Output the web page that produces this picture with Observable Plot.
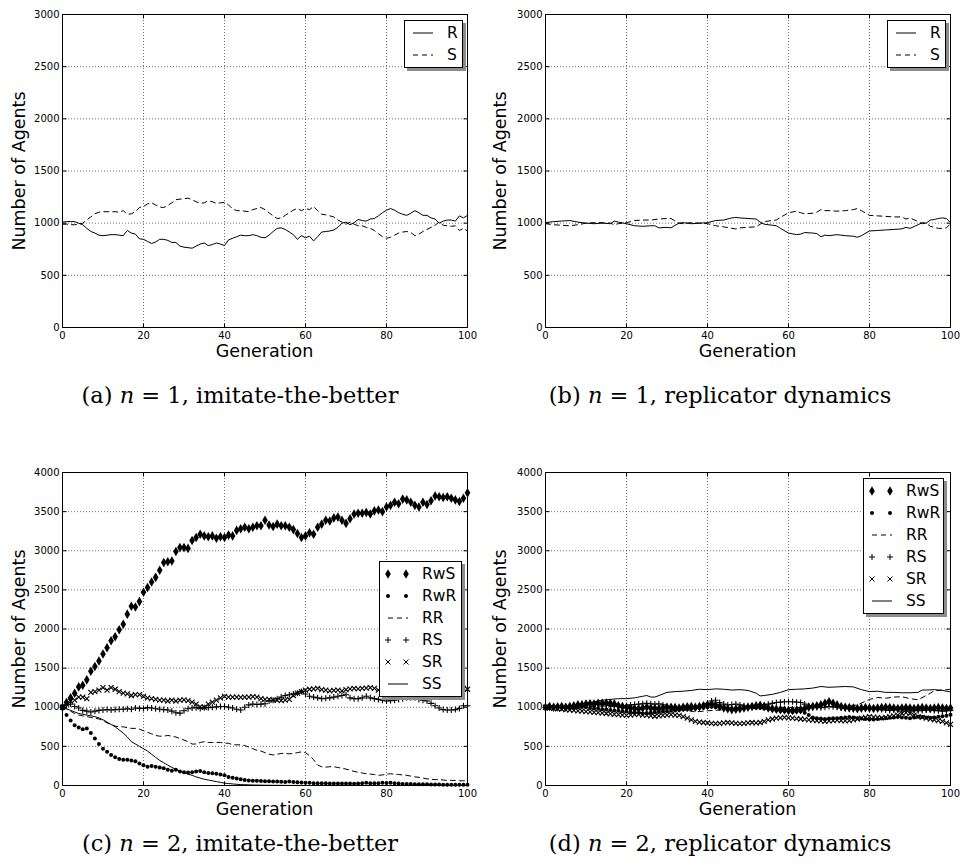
<!DOCTYPE html>
<html><head><meta charset="utf-8">
<script src="https://cdn.jsdelivr.net/npm/d3@7"></script>
<script src="https://cdn.jsdelivr.net/npm/@observablehq/plot@0.6"></script>
<style>
body{margin:0;background:#fff;}
#root{position:relative;width:960px;height:867px;overflow:hidden;background:#fff;font-family:"DejaVu Sans",sans-serif;color:#000;}
.panel{position:absolute;width:480px;height:430px;}
.ylab{position:absolute;font-size:17.5px;white-space:nowrap;transform:translate(-50%,-50%) rotate(-90deg);}
.xlab{position:absolute;font-size:17.5px;white-space:nowrap;transform:translate(-50%,-50%);}
.cap{position:absolute;left:0;width:480px;text-align:center;font-family:"DejaVu Serif",serif;font-size:22.5px;white-space:nowrap;transform:translateY(-50%);}
.legend{position:absolute;box-sizing:border-box;background:#fff;border:1px solid #000;box-shadow:3px 3px 0 #8c8c8c;}
.legend .row{position:absolute;left:0;height:22px;width:100%;}
.legend .row span{position:absolute;left:42px;top:0;line-height:22px;font-size:15.5px;}
.legend .row svg{position:absolute;left:0;top:0;overflow:visible;}
</style>
</head><body>
<div id="root"></div>
<script>
// ---------- data ----------
const generations = d3.range(0, 101);
const xTicks = [0, 20, 40, 60, 80, 100];
const yTicksTop = [0, 500, 1000, 1500, 2000, 2500, 3000];
const yTicksBottom = [0, 500, 1000, 1500, 2000, 2500, 3000, 3500, 4000];

// (a) n = 1, imitate-the-better
const aR = [
 1010,1015,1015,1015,1000,985,950,920,905,885,
 880,885,890,890,885,880,930,905,895,850,
 845,825,805,820,845,845,835,815,815,780,
 770,765,760,780,800,810,785,795,810,800,
 785,840,855,870,885,880,880,890,880,865,
 860,885,920,950,955,940,915,890,845,880,
 860,875,830,870,915,920,925,935,960,1000,
 1010,985,1005,1035,1025,1020,1040,1045,1070,1100,
 1125,1140,1125,1100,1085,1075,1095,1120,1100,1075,
 1075,1050,1040,1000,1020,1030,1030,1020,1070,1050,
 1075];
const aS = [
 990,990,985,985,990,1000,1030,1060,1090,1105,
 1110,1110,1110,1110,1105,1120,1085,1090,1110,1150,
 1160,1185,1195,1175,1155,1150,1170,1195,1225,1230,
 1235,1240,1225,1205,1190,1195,1215,1205,1190,1195,
 1200,1175,1135,1120,1120,1115,1110,1130,1140,1150,
 1130,1100,1070,1045,1050,1075,1100,1125,1140,1120,
 1140,1130,1160,1120,1085,1080,1070,1060,1030,1010,
 990,1010,990,975,975,960,950,930,900,870,
 855,865,885,905,915,920,910,880,895,920,
 940,960,980,1010,980,975,970,975,930,950,
 925];

// (b) n = 1, replicator dynamics
const bGen = [0,2,4,6,8,10,12,14,16,17,18,20,22,24,26,27,28,30,31,32,33,34,36,38,40,42,44,46,47,48,50,52,53,54,56,57,58,60,62,63,64,66,67,68,69,70,72,74,76,77,78,80,82,84,86,88,89,90,92,93,94,95,96,97,98,99,100];
const bR = [1005,1015,1020,1025,1010,1000,995,1000,995,1020,1010,995,975,970,975,975,955,960,955,980,1000,1005,995,1000,1005,1025,1030,1050,1055,1050,1045,1040,1010,990,980,975,950,905,890,895,910,905,900,870,885,880,890,880,875,865,880,925,930,935,940,945,960,950,985,1005,1000,1030,1035,1045,1050,1045,1005];
const bS = [995,985,980,975,985,1000,1005,1005,1000,985,995,1005,1025,1030,1030,1035,1040,1045,1045,1020,1000,995,1005,1000,995,975,965,950,945,955,960,965,990,1015,1025,1030,1055,1100,1115,1100,1090,1095,1105,1130,1120,1120,1115,1120,1130,1140,1120,1075,1070,1065,1060,1060,1040,1050,1015,995,1000,970,960,950,950,955,995];

// (c) n = 2, imitate-the-better
const cRwS = [
 1000,1060,1120,1180,1260,1280,1350,1460,1520,1590,
 1680,1760,1850,1900,1990,2060,2190,2290,2280,2350,
 2470,2530,2600,2660,2750,2850,2860,2870,2990,3040,
 3040,3030,3130,3170,3210,3190,3180,3190,3160,3180,
 3170,3200,3190,3260,3280,3300,3280,3300,3320,3320,
 3390,3330,3310,3340,3320,3320,3300,3270,3220,3170,
 3190,3230,3210,3300,3340,3390,3380,3420,3430,3390,
 3350,3410,3470,3480,3480,3490,3470,3510,3520,3500,
 3560,3580,3620,3600,3660,3650,3620,3580,3560,3620,
 3590,3640,3700,3690,3680,3690,3670,3650,3630,3670,
 3740];
const cRwR = [
 1000,900,830,770,740,720,730,670,600,530,
 470,430,390,360,340,330,330,320,310,280,
 260,240,250,240,230,220,200,190,200,180,
 170,165,170,180,185,170,160,155,150,140,
 130,110,100,90,80,70,65,60,60,58,
 55,55,52,50,48,45,50,45,40,38,
 35,35,30,30,28,28,25,25,25,25,
 25,25,22,25,30,35,30,28,30,35,
 32,35,30,25,20,18,18,15,15,15,
 15,12,12,12,10,10,10,10,10,10,
 10];
const cRR = [
 1000,980,950,920,900,890,880,870,860,850,
 830,800,780,760,750,750,740,730,730,720,
 700,680,660,640,630,630,640,630,620,600,
 580,560,530,530,550,560,550,550,550,550,
 540,540,520,520,520,510,490,470,450,440,
 420,400,390,400,410,410,405,410,420,430,
 420,380,330,260,240,235,240,240,230,220,
 210,195,180,170,160,150,145,140,130,135,
 145,150,145,140,135,130,120,110,105,95,
 85,80,75,75,70,65,65,65,60,60,
 60];
const cRS = [
 1000,1030,1040,1010,990,960,950,940,950,960,
 965,970,965,970,975,975,980,975,990,985,
 985,995,990,980,975,970,965,950,930,925,
 955,980,990,995,985,995,995,1000,1005,1010,
 1010,1000,990,975,965,1000,1030,1040,1035,1040,
 1045,1080,1090,1110,1130,1150,1160,1170,1180,1200,
 1170,1140,1130,1120,1110,1115,1120,1130,1140,1150,
 1160,1120,1110,1110,1120,1140,1120,1110,1100,1090,
 1080,1085,1090,1100,1110,1120,1125,1120,1100,1090,
 1080,1050,1020,990,970,965,965,970,985,1020,
 1020];
const cSR = [
 1000,1040,1080,1090,1130,1130,1110,1190,1200,1220,
 1250,1220,1250,1230,1200,1180,1170,1150,1160,1160,
 1140,1120,1110,1100,1090,1090,1080,1090,1080,1090,
 1095,1085,1065,1040,1005,1000,1040,1065,1090,1120,
 1140,1130,1130,1130,1125,1130,1130,1135,1130,1110,
 1100,1100,1090,1090,1085,1090,1100,1150,1180,1200,
 1220,1230,1235,1240,1225,1220,1210,1215,1220,1210,
 1225,1235,1240,1235,1240,1245,1250,1240,1220,1200,
 1180,1190,1200,1210,1220,1230,1230,1220,1230,1230,
 1240,1230,1220,1230,1220,1230,1230,1235,1230,1240,
 1230];
const cSS = [
 1000,980,960,940,920,910,900,890,880,865,
 840,810,780,750,710,670,620,560,530,500,
 470,440,400,360,320,290,260,230,210,180,
 165,145,130,110,95,80,70,60,50,40,
 30,25,20,15,12,10,8,6,5,4,
 3,3,2,2,2,1,1,1,1,1,
 0,0,0,0,0,0,0,0,0,0,
 0,0,0,0,0,0,0,0,0,0,
 0,0,0,0,0,0,0,0,0,0,
 0,0,0,0,0,0,0,0,0,0,
 0];

// (d) n = 2, replicator dynamics
const dRwS = [
 1000,1010,1000,1005,1010,1000,1010,1020,1030,1030,
 1040,1045,1040,1050,1050,1055,1050,1040,1020,1010,
 1000,990,985,980,990,1000,990,985,980,990,
 1000,1000,995,990,1000,1005,1010,1000,1010,1020,
 1030,1040,1030,1010,990,980,970,975,980,990,
 1000,1010,1020,1025,1010,990,980,975,970,965,
 960,960,965,970,985,1000,1010,1020,1030,1050,
 1070,1050,1030,1010,1000,995,990,985,990,995,
 990,985,990,995,1000,995,990,985,990,995,
 990,985,990,995,990,985,990,995,990,985,
 990];
const dRwR = [
 1000,995,1000,1005,1000,995,990,995,1000,1005,
 1000,990,985,980,975,970,965,960,955,950,
 945,940,930,925,920,925,930,935,940,945,
 950,955,960,965,970,975,980,985,990,995,
 1000,1005,1000,995,990,985,980,985,990,995,
 1000,1000,995,990,985,980,970,960,955,950,
 945,940,945,950,930,900,870,860,855,850,
 855,860,860,865,870,875,870,860,855,850,
 845,845,850,855,860,865,870,875,870,865,
 860,870,880,875,870,865,870,880,885,890,
 905];
const dRS = [
 1000,1005,1010,1000,995,1000,1010,1020,1030,1040,
 1045,1050,1045,1040,1035,1030,1025,1020,1015,1010,
 1020,1030,1035,1040,1045,1050,1045,1040,1045,1030,
 1010,1000,995,990,985,980,985,990,1000,1020,
 1050,1080,1090,1060,1040,1030,1035,1040,1030,1020,
 1010,1005,1010,1020,1030,1040,1050,1060,1065,1070,
 1070,1070,1065,1060,1040,1020,1010,1000,995,1000,
 1010,1005,1000,990,985,980,975,970,975,980,
 985,980,975,970,965,960,965,970,975,970,
 965,960,955,960,965,970,960,955,950,955,
 960];
const dSR = [
 1000,990,985,980,975,970,965,960,955,950,
 945,940,935,930,925,920,915,910,905,900,
 895,900,905,910,900,895,890,885,890,895,
 900,905,900,895,880,860,840,820,810,805,
 800,795,790,795,800,805,800,795,790,795,
 800,805,800,805,820,840,850,860,865,870,
 865,860,855,850,845,840,835,830,825,820,
 825,830,835,830,825,830,840,850,860,870,
 880,875,870,865,870,880,890,900,920,930,
 920,900,880,870,860,850,840,830,820,800,
 780];
const dSSGen = [0,2,4,6,8,10,12,14,16,18,20,22,24,25,26,27,28,30,32,34,36,38,40,42,44,46,48,50,52,53,54,56,58,60,62,64,66,68,70,72,74,76,78,80,82,84,86,88,90,92,93,94,96,98,100];
const dSS = [1000,1005,1010,1020,1030,1050,1070,1090,1100,1110,1110,1120,1140,1150,1130,1130,1150,1190,1200,1205,1215,1230,1225,1235,1230,1220,1225,1215,1180,1145,1150,1165,1190,1225,1230,1235,1245,1265,1255,1260,1265,1260,1225,1200,1205,1190,1190,1185,1185,1190,1220,1220,1225,1215,1195];
const dRRGen = [0,5,10,15,20,25,30,35,37,40,45,50,55,60,65,70,75,77,80,82,84,86,88,90,92,94,96,98,100];
const dRR = [1000,1005,1010,1015,1000,990,980,960,940,955,970,985,990,995,1000,1010,1015,1030,1100,1125,1115,1130,1135,1110,1095,1150,1210,1220,1230];

const captions = [
  {tag: "(a)", n: 1, method: "imitate-the-better"},
  {tag: "(b)", n: 1, method: "replicator dynamics"},
  {tag: "(c)", n: 2, method: "imitate-the-better"},
  {tag: "(d)", n: 2, method: "replicator dynamics"}
];
const yLabel = "Number of Agents";
const xLabel = "Generation";

// ---------- symbols ----------
const thinDiamond = {draw(ctx, size){const r=Math.sqrt(size/Math.PI);ctx.moveTo(0,-1.45*r);ctx.lineTo(0.85*r,0);ctx.lineTo(0,1.45*r);ctx.lineTo(-0.85*r,0);ctx.closePath();}};
const plusSym = {draw(ctx, size){const r=Math.sqrt(size/Math.PI);ctx.moveTo(-r,0);ctx.lineTo(r,0);ctx.moveTo(0,-r);ctx.lineTo(0,r);}};
const crossSym = {draw(ctx, size){const r=Math.sqrt(size/Math.PI);ctx.moveTo(-r,-r);ctx.lineTo(r,r);ctx.moveTo(-r,r);ctx.lineTo(r,-r);}};
const tickUp = {draw(ctx){ctx.moveTo(0,0);ctx.lineTo(0,-4);}};
const tickDown = {draw(ctx){ctx.moveTo(0,0);ctx.lineTo(0,4);}};
const tickRight = {draw(ctx){ctx.moveTo(0,0);ctx.lineTo(4,0);}};
const tickLeft = {draw(ctx){ctx.moveTo(0,0);ctx.lineTo(-4,0);}};

const zip = (xs, ys) => xs.map((x, i) => ({x, y: ys[i]}));

const styles = {
  line: {stroke:"#000", strokeWidth:1},
  dash: {stroke:"#000", strokeWidth:1, strokeDasharray:"5,4"},
  diamond: {symbol: thinDiamond, r:3.3, fill:"#000", stroke:"none"},
  dot: {symbol: "circle", r:2, fill:"#000", stroke:"none"},
  plus: {symbol: plusSym, r:3, fill:"none", stroke:"#000", strokeWidth:1.1},
  cross: {symbol: crossSym, r:2.5, fill:"none", stroke:"#000", strokeWidth:1.1}
};
function seriesMark(xs, ys, kind){
  const data = zip(xs, ys);
  if (kind === "line" || kind === "dash") return Plot.line(data, {x:"x", y:"y", ...styles[kind]});
  return Plot.dot(data, {x:"x", y:"y", ...styles[kind]});
}

const gridStyle = {stroke:"#000", strokeOpacity:0.7, strokeDasharray:"1,2", strokeWidth:0.8};
const tickStyle = {stroke:"#000", fill:"none", r:1, strokeWidth:1};

const root = document.getElementById("root");

function legendSample(kind){
  const ns = "http://www.w3.org/2000/svg";
  const svg = document.createElementNS(ns, "svg");
  svg.setAttribute("width", 40); svg.setAttribute("height", 22);
  if (kind === "line" || kind === "dash") {
    const l = document.createElementNS(ns, "line");
    l.setAttribute("x1", 8); l.setAttribute("x2", 28); l.setAttribute("y1", 11); l.setAttribute("y2", 11);
    l.setAttribute("stroke", "#000"); l.setAttribute("stroke-width", 1);
    if (kind === "dash") l.setAttribute("stroke-dasharray", "5,4");
    svg.appendChild(l);
  } else {
    const st = styles[kind];
    const sym = st.symbol === "circle" ? d3.symbolCircle : st.symbol;
    const p = d3.path(); sym.draw(p, Math.PI * st.r * st.r);
    for (const cx of [8, 26]) {
      const path = document.createElementNS(ns, "path");
      path.setAttribute("d", p.toString());
      path.setAttribute("transform", `translate(${cx},11)`);
      path.setAttribute("fill", st.fill); path.setAttribute("stroke", st.stroke);
      if (st.stroke !== "none") path.setAttribute("stroke-width", 1);
      svg.appendChild(path);
    }
  }
  return svg;
}

function makePanel(cfg){
  const div = document.createElement("div");
  div.className = "panel";
  div.style.left = cfg.left + "px"; div.style.top = cfg.top + "px";
  const yTicks = cfg.yTicks;
  const svg = Plot.plot({
    width: 480, height: 365,
    marginLeft: cfg.ml, marginRight: cfg.mr, marginTop: 14, marginBottom: 38,
    x: {domain: [0, 100]},
    y: {domain: [0, yTicks[yTicks.length - 1]]},
    style: {fontFamily: "DejaVu Sans", fontSize: "10px", background: "transparent", color: "#000", overflow: "visible"},
    marks: [
      Plot.gridX(xTicks, gridStyle),
      Plot.gridY(yTicks, gridStyle),
      ...cfg.series.map(s => seriesMark(s.xs, s.ys, s.kind)),
      Plot.frame({stroke: "#000", strokeWidth: 1}),
      Plot.axisX(xTicks, {tickSize: 0, tickPadding: 4, label: null, tickFormat: d => String(d)}),
      Plot.axisY(yTicks, {tickSize: 0, tickPadding: 3, label: null, tickFormat: d => String(d)}),
      Plot.dot(xTicks, {x: d => d, frameAnchor: "bottom", symbol: tickUp, ...tickStyle}),
      Plot.dot(xTicks, {x: d => d, frameAnchor: "top", symbol: tickDown, ...tickStyle}),
      Plot.dot(yTicks, {y: d => d, frameAnchor: "left", symbol: tickRight, ...tickStyle}),
      Plot.dot(yTicks, {y: d => d, frameAnchor: "right", symbol: tickLeft, ...tickStyle})
    ]
  });
  svg.style.position = "absolute"; svg.style.left = "0px"; svg.style.top = "0px";
  div.appendChild(svg);

  const fx = (cfg.ml + 480 - cfg.mr) / 2;
  const yl = document.createElement("div");
  yl.className = "ylab"; yl.textContent = yLabel;
  yl.style.left = cfg.ylx + "px"; yl.style.top = (14 + 327) / 2 + "px";
  div.appendChild(yl);
  const xl = document.createElement("div");
  xl.className = "xlab"; xl.textContent = xLabel;
  xl.style.left = fx + "px"; xl.style.top = "351px";
  div.appendChild(xl);

  const lg = document.createElement("div");
  lg.className = "legend";
  lg.style.left = cfg.legend.left + "px"; lg.style.top = cfg.legend.top + "px";
  lg.style.width = cfg.legend.width + "px";
  const items = cfg.series.filter(s => s.label).sort((a, b) => a.order - b.order);
  lg.style.height = (items.length * 22 + 4) + "px";
  items.forEach((s, i) => {
    const row = document.createElement("div");
    row.className = "row"; row.style.top = (1 + 22 * i) + "px";
    row.appendChild(legendSample(s.kind));
    const sp = document.createElement("span"); sp.textContent = s.label;
    row.appendChild(sp);
    lg.appendChild(row);
  });
  div.appendChild(lg);

  const c = cfg.caption;
  const cap = document.createElement("div");
  cap.className = "cap"; cap.style.top = cfg.capY + "px";
  cap.innerHTML = `${c.tag} <i>n</i> = ${c.n}, ${c.method}`;
  div.appendChild(cap);
  root.appendChild(div);
}

makePanel({left: 0, top: 0, ml: 62, mr: 13, ylx: 18.5, yTicks: yTicksTop, capY: 395,
  caption: captions[0], legend: {left: 404, top: 20, width: 59},
  series: [
    {xs: generations, ys: aR, kind: "line", label: "R", order: 0},
    {xs: generations, ys: aS, kind: "dash", label: "S", order: 1}
  ]});
makePanel({left: 480, top: 0, ml: 65, mr: 10, ylx: 20, yTicks: yTicksTop, capY: 395,
  caption: captions[1], legend: {left: 407, top: 20, width: 59},
  series: [
    {xs: bGen, ys: bR, kind: "line", label: "R", order: 0},
    {xs: bGen, ys: bS, kind: "dash", label: "S", order: 1}
  ]});
makePanel({left: 0, top: 458, ml: 62, mr: 13, ylx: 18.5, yTicks: yTicksBottom, capY: 385,
  caption: captions[2], legend: {left: 379, top: 103, width: 83},
  series: [
    {xs: generations, ys: cRwS, kind: "diamond", label: "RwS", order: 0},
    {xs: generations, ys: cRwR, kind: "dot", label: "RwR", order: 1},
    {xs: generations, ys: cRR, kind: "dash", label: "RR", order: 2},
    {xs: generations, ys: cRS, kind: "plus", label: "RS", order: 3},
    {xs: generations, ys: cSR, kind: "cross", label: "SR", order: 4},
    {xs: generations, ys: cSS, kind: "line", label: "SS", order: 5}
  ]});
makePanel({left: 480, top: 458, ml: 65, mr: 10, ylx: 20, yTicks: yTicksBottom, capY: 385,
  caption: captions[3], legend: {left: 383, top: 20, width: 81},
  series: [
    {xs: generations, ys: dRwS, kind: "diamond", label: "RwS", order: 0},
    {xs: generations, ys: dRwR, kind: "dot", label: "RwR", order: 1},
    {xs: dRRGen, ys: dRR, kind: "dash", label: "RR", order: 2},
    {xs: generations, ys: dRS, kind: "plus", label: "RS", order: 3},
    {xs: generations, ys: dSR, kind: "cross", label: "SR", order: 4},
    {xs: dSSGen, ys: dSS, kind: "line", label: "SS", order: 5}
  ]});
</script>
</body></html>
